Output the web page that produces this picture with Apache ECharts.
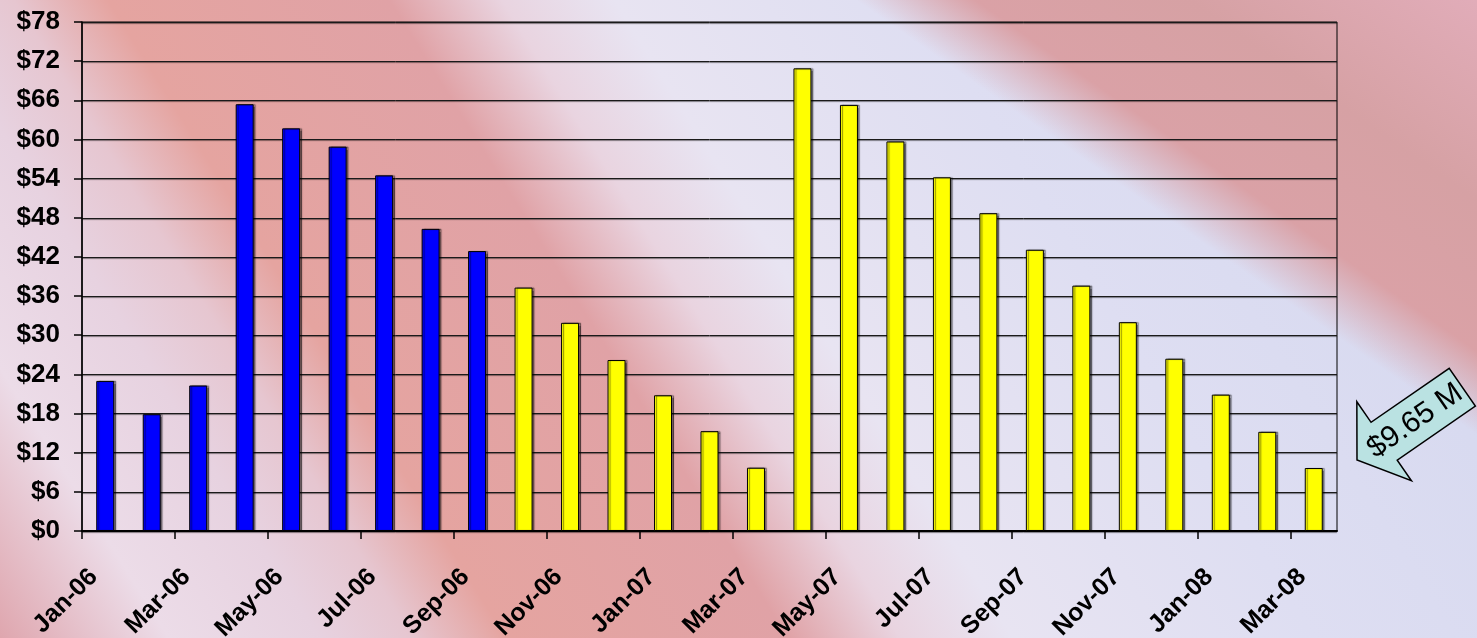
<!DOCTYPE html>
<html lang="en">
<head>
  <meta charset="UTF-8">
  <title>Monthly values, Jan-06 to Mar-08</title>
  <script src="https://cdn.jsdelivr.net/npm/echarts@6/dist/echarts.min.js"></script>
  <style>
    html, body { margin: 0; padding: 0; }
    #chart {
      width: 1477px; height: 638px;
      background:
        linear-gradient(35deg,
          rgba(220,160,166,0) 0%, rgba(220,160,166,0) 74%,
          rgba(218,158,162,0.95) 79%, rgba(214,158,160,0.95) 88%, rgba(226,170,182,0.95) 100%),
        linear-gradient(58deg,
          #dfa6ae 0%, #ecdce8 9%, #e7d2e0 17%, #e6c6d0 22%,
          #e5a4a0 27%, #e0a2a6 42%, #e9d4e0 48%,
          #e8e4f2 54%, #dedef2 70%, #d2d6ee 100%);
    }
  </style>
</head>
<body>
  <div id="chart"></div>
  <script>
    // month categories, one bar each
    var months = ['Jan-06','Feb-06','Mar-06','Apr-06','May-06','Jun-06','Jul-06','Aug-06','Sep-06',
      'Oct-06','Nov-06','Dec-06','Jan-07','Feb-07','Mar-07','Apr-07','May-07','Jun-07','Jul-07',
      'Aug-07','Sep-07','Oct-07','Nov-07','Dec-07','Jan-08','Feb-08','Mar-08'];
    // blue bars: Jan-06 .. Sep-06
    var actualValues = [23.0, 17.9, 22.3, 65.4, 61.7, 58.9, 54.5, 46.3, 42.9];
    // yellow bars: Oct-06 .. Mar-08
    var projectedValues = [37.3, 31.9, 26.2, 20.8, 15.3, 9.7,
      70.9, 65.3, 59.7, 54.2, 48.7, 43.1, 37.6, 32.0, 26.4, 20.9, 15.2, 9.65];
    var tickLabels = ['Jan-06','Mar-06','May-06','Jul-06','Sep-06','Nov-06','Jan-07',
      'Mar-07','May-07','Jul-07','Sep-07','Nov-07','Jan-08','Mar-08'];
    var calloutText = '$9.65 M';

    var blueData = months.map(function (m, i) { return i < actualValues.length ? actualValues[i] : null; });
    var yellowData = months.map(function (m, i) {
      var j = i - actualValues.length;
      return j >= 0 ? projectedValues[j] : null;
    });
    var tickPos = tickLabels.map(function (t) { return months.indexOf(t); });
    var labelShift = 0.25; // labels sit a little right of their tick, like the original

    var chart = echarts.init(document.getElementById('chart'));
    var barStyle = function (color) {
      return {
        color: color, borderColor: '#000', borderWidth: 1,
        shadowColor: 'rgba(0,0,0,0.45)', shadowOffsetX: 2, shadowBlur: 1
      };
    };
    var boldFont = { color: '#000', fontWeight: 'bold', fontFamily: 'Liberation Sans, Arial' };

    chart.setOption({
      backgroundColor: 'transparent',
      animation: false,
      grid: {
        left: 82, top: 22, right: 140, bottom: 107,
        containLabel: false, outerBoundsMode: 'none',
        show: true, borderColor: '#000', borderWidth: 1
      },
      xAxis: [{
        type: 'category',
        data: months,
        axisLine: { lineStyle: { color: '#000', width: 2 } },
        axisTick: { show: false },
        axisLabel: { show: false }
      }, {
        type: 'value',
        min: 0, max: months.length, interval: 2,
        position: 'bottom',
        splitLine: { show: false },
        axisLine: { show: false },
        axisTick: { show: true, length: 8, customValues: tickPos, lineStyle: { color: '#000', width: 1.5 } },
        axisLabel: { show: false }
      }, {
        type: 'value',
        min: -labelShift, max: months.length - labelShift,
        position: 'bottom',
        splitLine: { show: false },
        axisLine: { show: false },
        axisTick: { show: false },
        axisLabel: Object.assign({
          rotate: 45, margin: 42, fontSize: 25,
          customValues: tickPos,
          formatter: function (v) { var k = tickPos.indexOf(v); return k >= 0 ? tickLabels[k] : ''; }
        }, boldFont)
      }],
      yAxis: {
        type: 'value', min: 0, max: 78, interval: 6,
        axisLine: { show: true, lineStyle: { color: '#000', width: 1.5 } },
        axisTick: { show: true, length: 8, lineStyle: { color: '#000', width: 1.5 } },
        axisLabel: Object.assign({ margin: 22, fontSize: 26, formatter: function (v) { return '$' + v; } }, boldFont),
        splitLine: { lineStyle: { color: '#1a1a1a', width: 1, shadowColor: 'rgba(0,0,0,0.5)', shadowOffsetY: 1, shadowBlur: 1 } }
      },
      series: [{
        type: 'bar', data: blueData, barWidth: 18, barGap: '-100%',
        itemStyle: barStyle('#0000ff')
      }, {
        type: 'bar', data: yellowData, barWidth: 18, barGap: '-100%',
        itemStyle: barStyle('#ffff00')
      }],
      graphic: [{
        type: 'group',
        x: 1357, y: 460,
        rotation: 0.605,
        children: [{
          type: 'polygon',
          shape: { points: [[0, 0], [33, -48], [33, -23], [128, -23], [128, 23], [33, 23], [33, 48]] },
          style: { fill: '#bae2e2', stroke: '#000', lineWidth: 1.5 }
        }, {
          type: 'text',
          x: 70, y: 1,
          style: {
            text: calloutText, fill: '#000', font: '30px "Liberation Sans", Arial',
            align: 'center', verticalAlign: 'middle'
          }
        }]
      }]
    });
  </script>
</body>
</html>
